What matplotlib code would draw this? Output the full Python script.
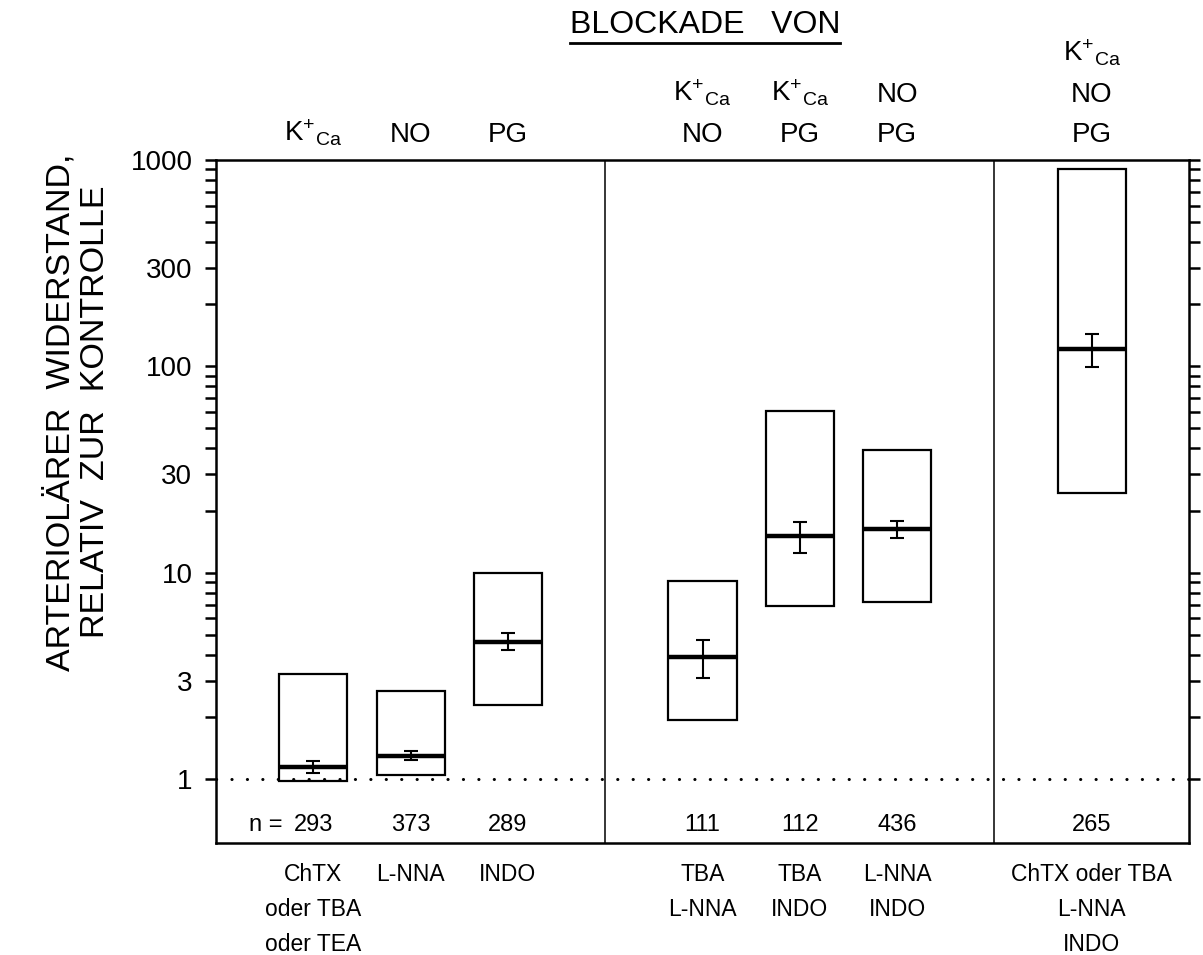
import matplotlib
matplotlib.use("Agg")
import matplotlib.pyplot as plt
from matplotlib.lines import Line2D
from matplotlib.patches import Rectangle
from matplotlib.ticker import FixedLocator, NullFormatter

plt.rcParams["font.family"] = ["Liberation Sans", "DejaVu Sans"]
plt.rcParams["mathtext.fontset"] = "custom"
plt.rcParams["mathtext.rm"] = "Liberation Sans"

# data (ratio to control, log scale)
positions = [1, 2, 3, 5, 6, 7, 9]
box_low = [0.974, 1.05, 2.29, 1.94, 6.93, 7.22, 24.3]
box_high = [3.22, 2.68, 10.0, 9.1, 60.8, 39.3, 903]
medians = [1.15, 1.30, 4.64, 3.90, 15.1, 16.3, 120.8]
err_low = [1.07, 1.24, 4.21, 3.08, 12.5, 14.8, 98.9]
err_high = [1.23, 1.37, 5.10, 4.73, 17.6, 17.9, 144]
n_values = [293, 373, 289, 111, 112, 436, 265]
separators = [4, 8]

KCA = r"$\mathrm{K^{+}{}_{Ca}}$"
headers = [
    [KCA],
    ["NO"],
    ["PG"],
    [KCA, "NO"],
    [KCA, "PG"],
    ["NO", "PG"],
    [KCA, "NO", "PG"],
]
drugs = [
    ["ChTX", "oder TBA", "oder TEA"],
    ["L-NNA"],
    ["INDO"],
    ["TBA", "L-NNA"],
    ["TBA", "INDO"],
    ["L-NNA", "INDO"],
    ["ChTX oder TBA", "L-NNA", "INDO"],
]
ytick_values = [1, 3, 10, 30, 100, 300, 1000]

fig = plt.figure(figsize=(12.03, 9.55), dpi=100)
ax = fig.add_axes([216 / 1203, (955 - 843) / 955, (1189 - 216) / 1203, (843 - 160) / 955])

ax.set_yscale("log")
ax.set_ylim(0.49, 1000)
ax.set_xlim(0, 10)

box_w = 0.7
for i, x in enumerate(positions):
    ax.add_patch(Rectangle((x - box_w / 2, box_low[i]), box_w, box_high[i] - box_low[i],
                           fill=False, edgecolor="black", linewidth=1.6, zorder=3))
    ax.plot([x - box_w / 2, x + box_w / 2], [medians[i], medians[i]],
            color="black", linewidth=3.2, solid_capstyle="butt", zorder=4)
    ax.errorbar([x], [medians[i]],
                yerr=[[medians[i] - err_low[i]], [err_high[i] - medians[i]]],
                fmt="none", ecolor="black", elinewidth=1.5, capsize=5, capthick=1.5, zorder=5)
    ax.text(x, 0.6, str(n_values[i]), ha="center", va="center", fontsize=17)

ax.text(0.68, 0.6, "n =", ha="right", va="center", fontsize=17)

for s in separators:
    ax.axvline(s, color="black", linewidth=1.1, zorder=2)

ax.axhline(1, color="black", linewidth=2.2, linestyle=(0, (0.05, 5.0)),
           dash_capstyle="round", zorder=2)

# axes styling
for side in ["left", "right", "top", "bottom"]:
    ax.spines[side].set_linewidth(1.8)
ax.xaxis.set_visible(False)
minor_vals = [m * 10 ** e for e in range(0, 3) for m in range(2, 10)]
minor_vals = [v for v in minor_vals if v not in ytick_values]
ax.yaxis.set_major_locator(FixedLocator(ytick_values))
ax.yaxis.set_minor_locator(FixedLocator(minor_vals))
ax.yaxis.set_minor_formatter(NullFormatter())
ax.set_yticklabels([str(v) for v in ytick_values])
ax.tick_params(axis="y", which="both", direction="out", length=8, width=1.8,
               left=True, right=True, labelsize=20, pad=9)

# column headers above the plot, bottom row aligned
trans = ax.get_xaxis_transform()
row_base = [(843 - 142) / 683, (843 - 102) / 683, (843 - 62) / 683]
for x, lines in zip(positions, headers):
    for j, txt in enumerate(reversed(lines)):
        ax.text(x, row_base[j], txt, ha="center", va="baseline", fontsize=20,
                transform=trans, clip_on=False)

# drug names below the plot
row_mid = [(843 - 874) / 683, (843 - 909) / 683, (843 - 944) / 683]
for x, lines in zip(positions, drugs):
    for j, txt in enumerate(lines):
        ax.text(x, row_mid[j], txt, ha="center", va="center", fontsize=16.5,
                transform=trans, clip_on=False)

# title with underline
title = fig.text(705 / 1203, 1 - 25 / 955, "BLOCKADE   VON", ha="center", va="center", fontsize=23)
fig.canvas.draw()
bb = title.get_window_extent()
y_line = bb.y0 - 3
fig.add_artist(Line2D([bb.x0 / 1203, bb.x1 / 1203], [y_line / 955, y_line / 955],
                      color="black", linewidth=2.0))

# y label, two centered lines
fig.text(60 / 1203, 1 - 412 / 955, "ARTERIOLÄRER  WIDERSTAND,", rotation=90,
         ha="center", va="center", fontsize=24.5)
fig.text(96 / 1203, 1 - 412 / 955, "RELATIV  ZUR  KONTROLLE", rotation=90,
         ha="center", va="center", fontsize=24.5)

fig.savefig("out.png", dpi=100)
